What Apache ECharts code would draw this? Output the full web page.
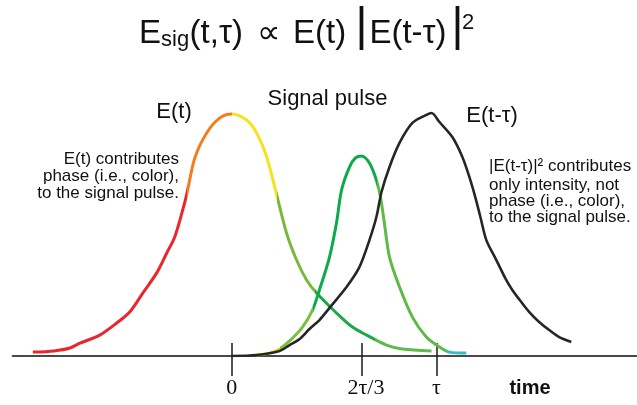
<!DOCTYPE html>
<html>
<head>
<meta charset="utf-8">
<script src="https://cdn.jsdelivr.net/npm/echarts@6/dist/echarts.min.js"></script>
<style>
html,body{margin:0;padding:0;background:#fff;}
#c{width:637px;height:405px;}
</style>
</head>
<body>
<div id="c"></div>
<script>
// time in units of tau (tau = 1), amplitude normalised to peak = 1
const tickValues = [0, 0.634, 1];
const tickLabels = ['0', '2τ/3', 'τ'];

// E(t): colour-coded (chirped) pulse
const eField = [
  [-0.971,0.016],[-0.868,0.021],[-0.790,0.033],[-0.741,0.053],[-0.644,0.086],
  [-0.561,0.136],[-0.498,0.181],[-0.434,0.259],[-0.366,0.342],[-0.317,0.424],
  [-0.278,0.490],[-0.239,0.601],[-0.220,0.663],[-0.180,0.815],[-0.122,0.918],
  [-0.059,0.979],[0,0.996],[0.073,0.971],[0.122,0.918],[0.171,0.819],
  [0.220,0.663],[0.268,0.506],[0.317,0.395],[0.366,0.313],[0.415,0.259],
  [0.512,0.177],[0.590,0.119],[0.659,0.086],[0.756,0.045],[0.834,0.029],[0.976,0.021]
];
const eBreaks = [-0.220, 0, 0.220, 0.405, 0.70];
const eColors = ['#e8262b', '#f17f22', '#f7e21f', '#7ab83d', '#1ea84a', '#5fba47'];

// Signal pulse
const sigPulse = [
  [0.122,0.004],[0.185,0.012],[0.234,0.029],[0.283,0.062],[0.346,0.119],
  [0.395,0.189],[0.429,0.272],[0.478,0.407],[0.512,0.547],[0.537,0.683],
  [0.576,0.778],[0.605,0.815],[0.634,0.823],[0.673,0.794],[0.707,0.724],
  [0.727,0.654],[0.746,0.547],[0.771,0.407],[0.820,0.284],[0.883,0.160],
  [0.951,0.078],[1.015,0.037],[1.063,0.016],[1.146,0.012]
];
const sigBreaks = [0.234, 0.395, 0.712, 1.045];
const sigColors = ['#f2d41e', '#7cbe42', '#0aab4b', '#5dba46', '#38bcc4'];

// E(t - tau): gate pulse
const gatePulse = [
  [0,0.000],[0.122,0.004],[0.234,0.021],[0.283,0.045],[0.332,0.070],
  [0.380,0.111],[0.429,0.148],[0.478,0.198],[0.561,0.284],[0.624,0.366],
  [0.673,0.477],[0.707,0.572],[0.732,0.675],[0.771,0.778],[0.820,0.877],
  [0.883,0.959],[0.951,0.992],[0.976,1.000],[1.015,0.963],[1.078,0.901],
  [1.127,0.819],[1.161,0.737],[1.190,0.654],[1.215,0.572],[1.244,0.477],
  [1.288,0.403],[1.341,0.313],[1.371,0.272],[1.415,0.222],[1.454,0.181],
  [1.502,0.140],[1.551,0.107],[1.600,0.078],[1.659,0.058]
];

function pieces(breaks, colors) {
  return colors.map((c, i) => {
    const p = {color: c};
    if (i > 0) p.gte = breaks[i - 1];
    if (i < breaks.length) p.lt = breaks[i];
    return p;
  });
}

const SANS = '"Liberation Sans", Arial, Helvetica, sans-serif';
function txt(text, x, y, size, align, weight) {
  const font = (weight || 'normal') + ' ' + size + 'px ' + SANS;
  return {
    type: 'text', x: x, y: y, silent: true,
    style: {
      text: text, font: font, fill: '#111',
      align: align || 'left', textAlign: align || 'left',
      verticalAlign: 'middle', textVerticalAlign: 'middle'
    }
  };
}

const graphics = [
  // title: E_sig(t,tau) ∝ E(t) |E(t-tau)|^2
  txt('E', 139, 34.2, 33),
  txt('sig', 161, 40.4, 22),
  txt('(t,τ)', 189.6, 34.2, 33),
  txt('∝', 268.5, 34.2, 33, 'center'),
  txt('E(t)', 293, 34.2, 33),
  txt('|', 361.5, 27.7, 46, 'center'),
  txt('E(t-τ)', 369.4, 34.2, 33),
  txt('|', 457.5, 27.7, 46, 'center'),
  txt('2', 462, 23.4, 22),
  // curve labels
  txt('E(t)', 156.3, 112.4, 22),
  txt('Signal pulse', 327.5, 99.1, 22, 'center'),
  txt('E(t-τ)', 466.3, 116.4, 22),
  // left annotation
  txt('E(t) contributes', 179, 159.8, 17, 'right'),
  txt('phase (i.e., color),', 179, 176.1, 17, 'right'),
  txt('to the signal pulse.', 179, 193.4, 17, 'right'),
  // right annotation
  txt('|E(t-τ)|² contributes', 489, 166.6, 17),
  txt('only intensity, not', 489, 185.1, 17),
  txt('phase (i.e., color),', 489, 201.4, 17),
  txt('to the signal pulse.', 489, 217.7, 17),
  // axis title
  txt('time', 530, 388, 20, 'center', 'bold')
];

const chart = echarts.init(document.getElementById('c'), null, {renderer: 'canvas'});
chart.setOption({
  animation: false,
  backgroundColor: '#fff',
  grid: {left: 12.6, top: 100.85, width: 625.25, height: 255.15, containLabel: false},
  xAxis: [
    {
      type: 'value', min: -1.07, max: 1.98, position: 'bottom',
      axisLine: {show: true, onZero: false, lineStyle: {color: '#4a4a4a', width: 2}},
      axisTick: {show: true, inside: true, length: 13, customValues: tickValues,
                 lineStyle: {color: '#1a1a1a', width: 1.5}},
      axisLabel: {show: false},
      splitLine: {show: false}
    },
    {
      type: 'value', min: -1.07, max: 1.98, position: 'bottom',
      axisLine: {show: false, onZero: false},
      axisTick: {show: true, inside: false, length: 20, customValues: tickValues,
                 lineStyle: {color: '#1a1a1a', width: 1.5}},
      axisLabel: {
        show: true, customValues: tickValues, margin: 21,
        fontFamily: '"Liberation Serif", "Times New Roman", serif', fontSize: 22, color: '#111',
        formatter: function (v) {
          let idx = 0, best = 1e9;
          tickValues.forEach((t, i) => { const d = Math.abs(t - v); if (d < best) { best = d; idx = i; } });
          return idx === 1 ? '{s|' + tickLabels[idx] + '}' : tickLabels[idx];
        },
        rich: {s: {fontFamily: '"Liberation Serif", "Times New Roman", serif', fontSize: 22, color: '#111', padding: [0, 0, 0, 9]}}
      },
      splitLine: {show: false}
    }
  ],
  yAxis: {type: 'value', min: 0, max: 1.05, show: false},
  visualMap: [
    {type: 'piecewise', show: false, seriesIndex: 0, dimension: 0, pieces: pieces(eBreaks, eColors)},
    {type: 'piecewise', show: false, seriesIndex: 1, dimension: 0, pieces: pieces(sigBreaks, sigColors)}
  ],
  series: [
    {type: 'line', name: 'E(t)', data: eField, xAxisIndex: 0, showSymbol: false, symbol: 'none',
     smooth: 0.3, lineStyle: {width: 3}},
    {type: 'line', name: 'Signal pulse', data: sigPulse, xAxisIndex: 0, showSymbol: false, symbol: 'none',
     smooth: 0.3, lineStyle: {width: 3}},
    {type: 'line', name: 'E(t-τ)', data: gatePulse, xAxisIndex: 0, showSymbol: false, symbol: 'none',
     smooth: 0.3, lineStyle: {width: 2.6, color: '#262626'}}
  ],
  graphic: graphics
});
</script>
</body>
</html>
